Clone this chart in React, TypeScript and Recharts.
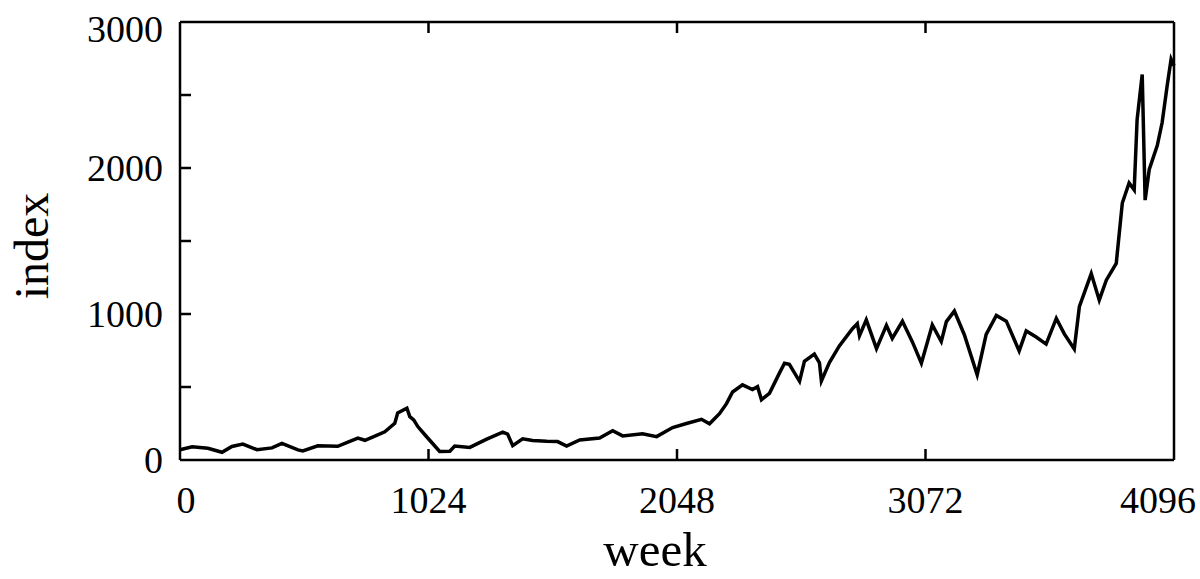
import React from 'react';
import { LineChart, Line, XAxis, YAxis } from 'recharts';

// weeks and index values
const weeks = [
  0, 50, 115, 173, 214, 259, 317, 379, 420, 486, 506, 568, 650, 692, 733, 762, 803, 844, 885, 897,
  935, 947, 963, 980, 1009, 1070, 1112, 1132, 1194, 1264, 1330, 1350, 1371, 1412, 1453, 1511, 1556,
  1593, 1647, 1729, 1783, 1824, 1906, 1964, 2030, 2087, 2149, 2182, 2223, 2252, 2277, 2318, 2359,
  2380, 2396, 2429, 2470, 2491, 2511, 2553, 2573, 2614, 2635, 2643, 2676, 2717, 2771, 2791, 2800,
  2828, 2870, 2911, 2935, 2977, 3018, 3055, 3100, 3137, 3158, 3191, 3232, 3285, 3322, 3364, 3405,
  3458, 3487, 3528, 3569, 3611, 3644, 3685, 3706, 3755, 3788, 3817, 3858, 3883, 3911, 3932, 3944,
  3965, 3977, 3994, 4027, 4047, 4068, 4084, 4096,
];
const indexValues = [
  70, 90, 80, 53, 93, 109, 71, 83, 114, 69, 62, 97, 94, 122, 150, 135, 163, 193, 251, 322,
  355, 297, 275, 229, 173, 59, 60, 95, 86, 143, 191, 178, 98, 145, 134, 128, 126,
  95, 137, 150, 200, 165, 180, 160, 222, 250, 279, 248, 317, 386, 466, 515, 482,
  502, 413, 457, 595, 663, 655, 539, 676, 725, 666, 541, 667, 781, 899, 934, 851,
  960, 763, 922, 833, 950, 809, 663, 925, 811, 948, 1020, 858, 584, 860, 990, 951,
  747, 884, 842, 794, 970, 864, 760, 1050, 1277, 1095, 1232, 1347, 1760, 1897, 1850, 2332,
  2640, 1780, 1990, 2153, 2310, 2565, 2745, 2700,
];

const xTicks = [0, 1024, 2048, 3072, 4096];
const yTicks = [0, 500, 1000, 1500, 2000, 2500, 3000];
const yLabels = [0, 1000, 2000, 3000];

const data = weeks.map((w, i) => ({ week: w, value: indexValues[i] }));

const FONT = '"Liberation Serif", "DejaVu Serif", serif';
const TICK_LEN = 11;
const INK = '#000';

const BottomTick = (props: any) => {
  const { x, y, payload } = props;
  const v = payload.value;
  let dx = 0;
  if (v === 0) dx = 6;
  if (v === 4096) dx = -16;
  return (
    <g>
      {v !== 0 && v !== 4096 && (
        <line x1={x} y1={y} x2={x} y2={y - TICK_LEN} stroke={INK} strokeWidth={2.5} />
      )}
      <text x={x + dx} y={y + 53} textAnchor="middle" fontFamily={FONT} fontSize={38} fill={INK}>
        {v}
      </text>
    </g>
  );
};

const TopTick = (props: any) => {
  const { x, y, payload } = props;
  const v = payload.value;
  if (v === 0 || v === 4096) return <g />;
  return <line x1={x} y1={y} x2={x} y2={y + TICK_LEN} stroke={INK} strokeWidth={2.5} />;
};

const LeftTick = (props: any) => {
  const { x, y, payload } = props;
  const v = payload.value;
  const showLabel = yLabels.includes(v);
  return (
    <g>
      {v !== 0 && v !== 3000 && (
        <line x1={x} y1={y} x2={x + TICK_LEN} y2={y} stroke={INK} strokeWidth={2.5} />
      )}
      {showLabel && (
        <text
          x={x - 17}
          y={y + (v === 3000 ? 7 : 0)}
          textAnchor="end"
          dominantBaseline="central"
          fontFamily={FONT}
          fontSize={38}
          fill={INK}
        >
          {v}
        </text>
      )}
    </g>
  );
};

const RightTick = (props: any) => {
  const { x, y, payload } = props;
  const v = payload.value;
  if (v === 0 || v === 3000) return <g />;
  return <line x1={x} y1={y} x2={x - TICK_LEN} y2={y} stroke={INK} strokeWidth={2.5} />;
};

export default function App() {
  return (
    <div style={{ position: 'absolute', left: 0, top: 0, background: '#fff' }}>
      <LineChart
        width={1200}
        height={579}
        data={data}
        margin={{ top: 21, right: 25, bottom: 118, left: 179 }}
      >
        <XAxis
          xAxisId="b"
          dataKey="week"
          type="number"
          domain={[0, 4096]}
          ticks={xTicks}
          interval={0}
          height={1}
          tickSize={0}
          tickMargin={0}
          tickLine={false}
          axisLine={{ stroke: INK, strokeWidth: 2.5 }}
          tick={BottomTick}
          label={{
            content: () => (
              <text x={655} y={566} textAnchor="middle" fontFamily={FONT} fontSize={49} fill={INK}>
                week
              </text>
            ),
          }}
        />
        <XAxis
          xAxisId="t"
          orientation="top"
          dataKey="week"
          type="number"
          domain={[0, 4096]}
          ticks={xTicks}
          interval={0}
          height={1}
          tickSize={0}
          tickMargin={0}
          tickLine={false}
          axisLine={{ stroke: INK, strokeWidth: 2.5 }}
          tick={TopTick}
        />
        <YAxis
          yAxisId="l"
          type="number"
          domain={[0, 3000]}
          ticks={yTicks}
          interval={0}
          width={1}
          tickSize={0}
          tickMargin={0}
          tickLine={false}
          axisLine={{ stroke: INK, strokeWidth: 2.5 }}
          tick={LeftTick}
          label={{
            content: () => (
              <text
                x={48}
                y={246}
                transform="rotate(-90 48 246)"
                textAnchor="middle"
                fontFamily={FONT}
                fontSize={48}
                fill={INK}
              >
                index
              </text>
            ),
          }}
        />
        <YAxis
          yAxisId="r"
          orientation="right"
          type="number"
          domain={[0, 3000]}
          ticks={yTicks}
          interval={0}
          width={1}
          tickSize={0}
          tickMargin={0}
          tickLine={false}
          axisLine={{ stroke: INK, strokeWidth: 2.5 }}
          tick={RightTick}
        />
        <Line
          xAxisId="b"
          yAxisId="l"
          type="linear"
          dataKey="value"
          stroke={INK}
          strokeWidth={3.5}
          dot={false}
          isAnimationActive={false}
        />
      </LineChart>
    </div>
  );
}
